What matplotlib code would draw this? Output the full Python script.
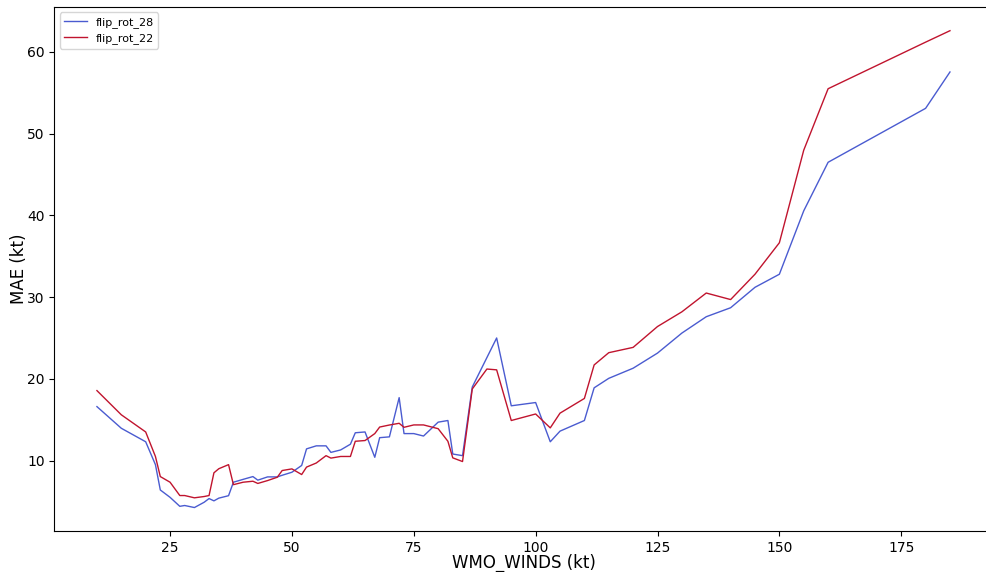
import numpy as np
import matplotlib.pyplot as plt

wmo_winds = [10, 15, 20, 22, 23, 25, 27, 28, 30, 32, 33, 34, 35, 37, 38, 40, 42, 43,
             45, 47, 48, 50, 52, 53, 55, 57, 58, 60, 62, 63, 65, 67, 68, 70, 72, 73,
             75, 77, 80, 82, 83, 85, 87, 90, 92, 95, 100, 103, 105, 110, 112, 115,
             120, 125, 130, 135, 140, 145, 150, 155, 160, 180, 185]

mae_rot_28 = [16.6, 13.95, 12.3, 9.5, 6.4, 5.5, 4.4, 4.5, 4.25, 4.9, 5.35, 5.07, 5.4, 5.7,
              7.35, 7.7, 8.04, 7.6, 8.0, 8.0, 8.2, 8.57, 9.4, 11.43, 11.8, 11.8, 11.0,
              11.3, 12.0, 13.4, 13.5, 10.4, 12.8, 12.9, 17.7, 13.3, 13.3, 13.0, 14.7,
              14.9, 10.8, 10.6, 19.0, 22.6, 25.0, 16.7, 17.1, 12.3, 13.6, 14.9, 18.9,
              20.06, 21.3, 23.15, 25.6, 27.6, 28.7, 31.2, 32.8, 40.56, 46.5, 53.1, 57.55]

mae_rot_22 = [18.56, 15.6, 13.5, 10.5, 8.04, 7.35, 5.72, 5.72, 5.44, 5.6, 5.72, 8.5, 9.0,
              9.5, 7.05, 7.35, 7.47, 7.2, 7.55, 7.96, 8.78, 8.98, 8.29, 9.2, 9.7, 10.6,
              10.3, 10.5, 10.5, 12.36, 12.45, 13.3, 14.1, 14.35, 14.56, 14.07, 14.36,
              14.36, 13.9, 12.36, 10.33, 9.88, 18.76, 21.2, 21.1, 14.9, 15.7, 14.0,
              15.8, 17.6, 21.7, 23.2, 23.85, 26.4, 28.2, 30.5, 29.7, 32.8, 36.65,
              47.98, 55.5, 61.2, 62.6]

fig, ax = plt.subplots(figsize=(9.87, 5.72), dpi=100)
# the original image is cropped on the right, so the axes run past the edge
fig.subplots_adjust(left=0.055, right=1.0057, bottom=0.071, top=0.988)

ax.plot(wmo_winds, mae_rot_28, color='#4a5bd0', linewidth=1, label='flip_rot_28')
ax.plot(wmo_winds, mae_rot_22, color='#c0142e', linewidth=1, label='flip_rot_22')

ax.set_xlabel('WMO_WINDS (kt)', fontsize=12, labelpad=-1)
ax.set_ylabel('MAE (kt)', fontsize=12, labelpad=-1)
ax.legend(loc='upper left', fontsize=8)

plt.savefig('out.png')
